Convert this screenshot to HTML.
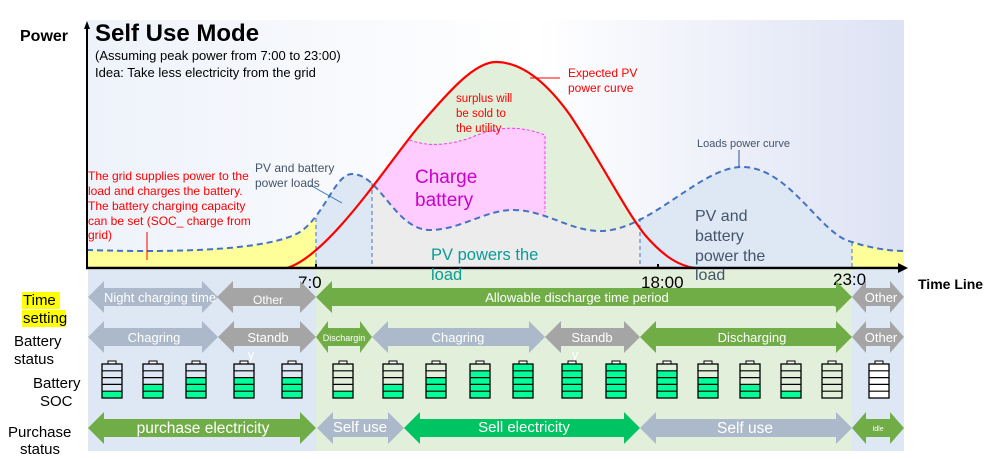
<!DOCTYPE html>
<html><head><meta charset="utf-8"><style>
html,body{margin:0;padding:0;background:#fff}
svg{display:block;font-family:"Liberation Sans",Arial,sans-serif}
</style></head><body>
<svg width="993" height="459" viewBox="0 0 993 459" xmlns="http://www.w3.org/2000/svg">
<defs>
<linearGradient id="bg" x1="0" x2="1" y1="0" y2="0">
<stop offset="0" stop-color="#eef2fa"/><stop offset="0.55" stop-color="#ffffff"/><stop offset="1" stop-color="#dde2f4"/>
</linearGradient>
<clipPath id="redc"><path d="M287,268 C330,255 390,160 420,125 C450,90 475,62 496,62 C520,62 545,80 570,115 C600,160 625,210 645,235 C665,258 680,266 695,268 Z"/></clipPath>
<clipPath id="cg"><rect x="372" y="0" width="268" height="270"/></clipPath>
<clipPath id="cb"><rect x="316" y="0" width="56" height="270"/><rect x="640" y="0" width="212" height="270"/></clipPath>
<clipPath id="cy"><rect x="87" y="0" width="229" height="270"/><rect x="852" y="0" width="52" height="270"/></clipPath>
<g id="bat">
<rect x="-4" y="361" width="8" height="3" fill="#fff" stroke="#000" stroke-width="1"/>
<rect x="-10" y="364" width="20" height="34" fill="none" stroke="#000" stroke-width="1.3"/>
<path d="M-10,370.8H10M-10,377.6H10M-10,384.4H10M-10,391.2H10" stroke="#000" stroke-width="1.2"/>
</g>
</defs>
<!-- chart background -->
<rect x="87" y="20" width="817" height="248" fill="url(#bg)"/>
<!-- bottom bands -->
<rect x="88" y="270" width="228" height="181" fill="#dde8f4"/>
<rect x="316" y="270" width="536" height="181" fill="#e2efda"/>
<rect x="852" y="270" width="52" height="181" fill="#dde8f4"/>
<!-- green under PV -->
<path d="M287,268 C330,255 390,160 420,125 C450,90 475,62 496,62 C520,62 545,80 570,115 C600,160 625,210 645,235 C665,258 680,266 695,268 Z" fill="#e2efda"/>
<!-- pink -->
<path clip-path="url(#redc)" d="M372,120 L405,138 C420,145 440,148 470,138 C500,125 520,126 545,135 L545,268 L372,268 Z" fill="#ffccff"/>
<path clip-path="url(#redc)" d="M405,138 C420,145 440,148 470,138 C500,125 520,126 545,135 L545,212" fill="none" stroke="#ff33ff" stroke-width="1" stroke-dasharray="3,2"/>
<!-- areas under load curve -->
<g>
<path id="loadA" d="M87,250 C180,253 270,250 300,232 C325,215 335,174 352,174 C380,174 395,230 430,230 C460,230 485,210 513,210 C545,210 570,231 600,231 C650,231 700,167 742,167 C790,167 820,235 852,242 C870,248 890,251 904,251 L904,268 L87,268 Z" fill="#ececec" clip-path="url(#cg)"/>
<path d="M87,250 C180,253 270,250 300,232 C325,215 335,174 352,174 C380,174 395,230 430,230 C460,230 485,210 513,210 C545,210 570,231 600,231 C650,231 700,167 742,167 C790,167 820,235 852,242 C870,248 890,251 904,251 L904,268 L87,268 Z" fill="#dde8f4" clip-path="url(#cb)"/>
<path d="M87,250 C180,253 270,250 300,232 C325,215 335,174 352,174 C380,174 395,230 430,230 C460,230 485,210 513,210 C545,210 570,231 600,231 C650,231 700,167 742,167 C790,167 820,235 852,242 C870,248 890,251 904,251 L904,268 L87,268 Z" fill="#ffff99" clip-path="url(#cy)"/>
</g>
<!-- dashed verticals -->
<path d="M316,218V268M372,183V268M640,218V268M852,242V268" stroke="#4472c4" stroke-width="1" stroke-dasharray="4,3"/>
<!-- load curve -->
<path d="M87,250 C180,253 270,250 300,232 C325,215 335,174 352,174 C380,174 395,230 430,230 C460,230 485,210 513,210 C545,210 570,231 600,231 C650,231 700,167 742,167 C790,167 820,235 852,242 C870,248 890,251 904,251" fill="none" stroke="#4472c4" stroke-width="2" stroke-dasharray="6,4"/>
<!-- PV curve -->
<path d="M287,268 C330,255 390,160 420,125 C450,90 475,62 496,62 C520,62 545,80 570,115 C600,160 625,210 645,235 C665,258 680,266 695,268" fill="none" stroke="#ff0000" stroke-width="2.2"/>
<!-- axes -->
<path d="M87,268V26" stroke="#000" stroke-width="2"/>
<path d="M84,29L87,21L90,29Z" fill="#000"/>
<path d="M86,268H900" stroke="#000" stroke-width="2.5"/>
<path d="M898,263L908,268L898,273Z" fill="#000"/>
<path d="M316,264V268M658,264V268" stroke="#000" stroke-width="2"/>
<!-- pointer lines -->
<line x1="147" y1="232" x2="147" y2="260" stroke="#ff0000" stroke-width="1"/>
<line x1="310" y1="185" x2="342" y2="203" stroke="#2e75b6" stroke-width="1"/>
<line x1="530" y1="78" x2="560" y2="78" stroke="#ff0000" stroke-width="1"/>
<line x1="739" y1="150" x2="739" y2="167" stroke="#2f5597" stroke-width="1"/>
<!-- texts -->
<text x="20" y="41" font-size="16" font-weight="bold">Power</text>
<text x="95" y="41" font-size="24" font-weight="bold">Self Use Mode</text>
<text x="95" y="60" font-size="13">(Assuming peak power from 7:00 to 23:00)</text>
<text x="95" y="77" font-size="13">Idea: Take less electricity from the grid</text>
<g font-size="12" fill="#ff0000">
<text x="88" y="180">The grid supplies power to the</text>
<text x="88" y="195">load and charges the battery.</text>
<text x="88" y="210">The battery charging capacity</text>
<text x="88" y="225">can be set (SOC_ charge from</text>
<text x="88" y="239">grid)</text>
<text x="456" y="102" font-size="11.5">surplus will</text>
<text x="456" y="117" font-size="11.5">be sold to</text>
<text x="456" y="132" font-size="11.5">the utility</text>
<text x="568" y="77">Expected PV</text>
<text x="568" y="92">power curve</text>
</g>
<g font-size="12" fill="#44546a">
<text x="255" y="172">PV and battery</text>
<text x="255" y="187">power loads</text>
<text x="697" y="147" font-size="11">Loads power curve</text>
</g>
<text x="415" y="183" font-size="19" fill="#cc00cc">Charge</text>
<text x="415" y="206" font-size="19" fill="#cc00cc">battery</text>
<text x="431" y="260" font-size="16.5" fill="#0a9b96">PV powers the</text>
<text x="431" y="280" font-size="16.5" fill="#0a9b96">load</text>
<g font-size="16" fill="#44546a">
<text x="695" y="221">PV and</text>
<text x="695" y="241">battery</text>
<text x="695" y="261">power the</text>
<text x="695" y="280">load</text>
</g>
<g font-size="17" fill="#000">
<text x="298" y="288">7:0</text>
<text x="641" y="288">18:00</text>
<text x="833" y="285">23:0</text>
<text x="833" y="307">0</text>
</g>
<text x="918" y="289" font-size="14" font-weight="bold">Time  Line</text>
<!-- left labels -->
<rect x="22" y="292" width="38" height="17" fill="#ffff00"/>
<rect x="22" y="310" width="44" height="17" fill="#ffff00"/>
<g font-size="15">
<text x="23" y="305">Time</text>
<text x="23" y="323">setting</text>
<text x="14" y="346">Battery</text>
<text x="14" y="364">status</text>
<text x="33" y="388">Battery</text>
<text x="40" y="406">SOC</text>
<text x="8" y="437">Purchase</text>
<text x="20" y="454">status</text>
</g>
<!-- row 1 -->
<polygon fill="#acb9ca" points="88,297 104,281 104,288 202,288 202,281 218,297 202,313 202,306 104,306 104,313"/>
<polygon fill="#a5a5a5" points="217,297 233,281 233,288 300,288 300,281 316,297 300,313 300,306 233,306 233,313"/>
<polygon fill="#70ad47" points="316,297 332,281 332,288 836,288 836,281 852,297 836,313 836,306 332,306 332,313"/>
<polygon fill="#a5a5a5" points="852,297 866,281 866,288 890,288 890,281 904,297 890,313 890,306 866,306 866,313"/>
<!-- row 2 -->
<polygon fill="#acb9ca" points="88,337 104,321 104,328 202,328 202,321 218,337 202,353 202,346 104,346 104,353"/>
<polygon fill="#a5a5a5" points="218,337 234,321 234,328 300,328 300,321 316,337 300,353 300,346 234,346 234,353"/>
<polygon fill="#70ad47" points="316,337 328,321 328,328 360,328 360,321 372,337 360,353 360,346 328,346 328,353"/>
<polygon fill="#acb9ca" points="372,337 388,321 388,328 529,328 529,321 545,337 529,353 529,346 388,346 388,353"/>
<polygon fill="#a5a5a5" points="545,337 561,321 561,328 624,328 624,321 640,337 624,353 624,346 561,346 561,353"/>
<polygon fill="#70ad47" points="640,337 656,321 656,328 836,328 836,321 852,337 836,353 836,346 656,346 656,353"/>
<polygon fill="#a5a5a5" points="852,337 866,321 866,328 890,328 890,321 904,337 890,353 890,346 866,346 866,353"/>
<!-- row 4 -->
<polygon fill="#70ad47" points="88,428 104,412 104,419 300,419 300,412 316,428 300,444 300,437 104,437 104,444"/>
<polygon fill="#acb9ca" points="317,428 333,412 333,419 388,419 388,412 404,428 388,444 388,437 333,437 333,444"/>
<polygon fill="#00c462" points="404,428 420,412 420,419 624,419 624,412 640,428 624,444 624,437 420,437 420,444"/>
<polygon fill="#acb9ca" points="640,428 656,412 656,419 836,419 836,412 852,428 836,444 836,437 656,437 656,444"/>
<polygon fill="#70ad47" points="852,428 866,412 866,419 890,419 890,412 904,428 890,444 890,437 866,437 866,444"/>
<!-- arrow texts -->
<g fill="#fff" font-size="13" text-anchor="middle">
<text x="160" y="302">Night charging time</text>
<text x="268" y="304" font-size="12">Other</text>
<text x="577" y="302">Allowable discharge time period</text>
<text x="881" y="302">Other</text>
<text x="154" y="342">Chagring</text>
<text x="268" y="342">Standb</text>
<text x="251" y="359">y</text>
<text x="344" y="341" font-size="9">Dischargin</text>
<text x="458" y="342">Chagring</text>
<text x="592" y="342">Standb</text>
<text x="575" y="359">y</text>
<text x="752" y="342">Discharging</text>
<text x="881" y="342">Other</text>
<text x="203" y="433" font-size="15.5">purchase electricity</text>
<text x="360" y="432" font-size="15">Self use</text>
<text x="524" y="432" font-size="15">Sell electricity</text>
<text x="745" y="433" font-size="15.5">Self use</text>
<text x="878" y="431" font-size="7">Idle</text>
</g>
<!-- batteries: green fills -->
<g fill="#00ff99">
<rect x="102" y="391.2" width="20" height="6.8"/>
<rect x="143" y="384.4" width="20" height="13.6"/>
<rect x="186" y="377.6" width="20" height="20.4"/>
<rect x="234" y="377.6" width="20" height="20.4"/>
<rect x="282" y="377.6" width="20" height="20.4"/>
<rect x="333" y="391.2" width="20" height="6.8"/>
<rect x="383" y="384.4" width="20" height="13.6"/>
<rect x="426" y="377.6" width="20" height="20.4"/>
<rect x="470" y="370.8" width="20" height="27.2"/>
<rect x="513" y="364" width="20" height="34"/>
<rect x="562" y="364" width="20" height="34"/>
<rect x="606" y="364" width="20" height="34"/>
<rect x="657" y="370.8" width="20" height="27.2"/>
<rect x="698" y="377.6" width="20" height="20.4"/>
<rect x="740" y="384.4" width="20" height="13.6"/>
<rect x="781" y="391.2" width="20" height="6.8"/>
</g>
<rect x="869" y="364" width="20" height="34" fill="#fff"/>
<use href="#bat" x="112"/><use href="#bat" x="153"/><use href="#bat" x="196"/><use href="#bat" x="244"/><use href="#bat" x="292"/>
<use href="#bat" x="343"/><use href="#bat" x="393"/><use href="#bat" x="436"/><use href="#bat" x="480"/><use href="#bat" x="523"/>
<use href="#bat" x="572"/><use href="#bat" x="616"/><use href="#bat" x="667"/><use href="#bat" x="708"/><use href="#bat" x="750"/>
<use href="#bat" x="791"/><use href="#bat" x="832"/><use href="#bat" x="879"/>
</svg>
</body></html>
